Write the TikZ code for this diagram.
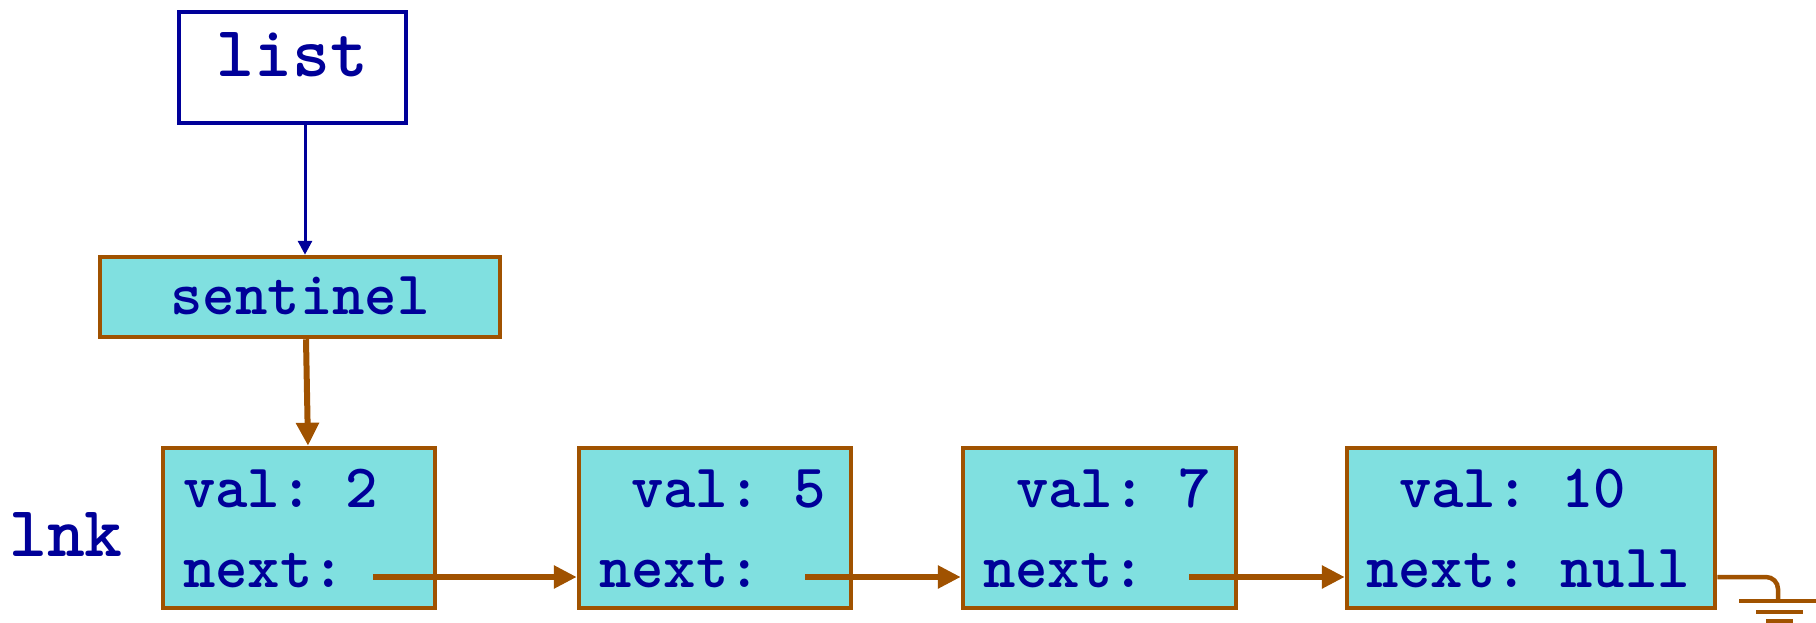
\documentclass[tikz,border=0pt]{standalone}
\usetikzlibrary{arrows.meta}
\definecolor{cellfill}{RGB}{128,224,224}
\definecolor{brn}{RGB}{160,82,0}
\definecolor{dblue}{RGB}{0,0,153}
\begin{document}
\frenchspacing
\begin{tikzpicture}[x=1pt,y=-1pt,
  cell/.style={draw=brn, line width=4.5pt, fill=cellfill, inner sep=0pt},
  lbl/.style={font=\ttfamily\bfseries\fontsize{61.7}{66}\selectfont, text=dblue, inner sep=0pt, anchor=base west},
  big/.style={font=\ttfamily\bfseries\fontsize{72}{78}\selectfont, text=dblue, inner sep=0pt},
  link/.style={draw=brn, line width=6pt, -{Triangle[length=23pt,width=22pt]}},
  ptr/.style={draw=dblue, line width=3pt, -{Triangle[length=14pt,width=14pt]}},
  gndline/.style={draw=brn, line width=4.5pt},
]
\useasboundingbox (0,0) rectangle (1816,623);
% list box
\node[draw=dblue, line width=4pt, fill=white, inner sep=0pt, minimum width=227pt, minimum height=111pt] (list) at (292.5,67.5) {};
\node[big, anchor=base] (listtxt) at (292.5,77) {list};
% sentinel
\node[cell, minimum width=400pt, minimum height=80pt] (sent) at (300,297) {};
\node[lbl, anchor=base] (senttxt) at (300,314) {sentinel};
% lnk label
\node[big, anchor=base west] (lnk) at (9,556) {lnk};
% cells
\node[cell, minimum width=272pt, minimum height=160pt] (n1) at (299,528) {};
\node[cell, minimum width=272pt, minimum height=160pt] (n2) at (715,528) {};
\node[cell, minimum width=273pt, minimum height=160pt] (n3) at (1099.5,528) {};
\node[cell, minimum width=368pt, minimum height=160pt] (n4) at (1531,528) {};
% texts
\node[lbl] (v1) at (183,507) {val: 2};
\node[lbl] (x1) at (183,587) {next:};
\node[lbl] (v2) at (631,507) {val: 5};
\node[lbl] (x2) at (599,587) {next:};
\node[lbl] (v3) at (1016,507) {val: 7};
\node[lbl] (x3) at (983,587) {next:};
\node[lbl] (v4) at (1399,507) {val: 10};
\node[lbl] (x4) at (1366,587) {next: null};
% pointer starts
\coordinate (p1) at (373,577);
\coordinate (p2) at (805,577);
\coordinate (p3) at (1189,577);
\coordinate (g0) at (1715,577);
\coordinate (gnd) at (1778,601);
% connectors
\draw[ptr] ([xshift=12.5pt]list.south) -- ([xshift=5pt]sent.north);
\draw[link] ([xshift=6pt]sent.south) -- ([xshift=9pt]n1.north);
\draw[link] (p1) -- (p1 -| n2.west);
\draw[link] (p2) -- (p2 -| n3.west);
\draw[link] (p3) -- (p3 -| n4.west);
% ground
\draw[gndline, rounded corners=12pt] (g0 -| n4.east) -- (g0 -| gnd) -- (gnd);
\draw[gndline] ([xshift=-39pt]gnd) -- ([xshift=38pt]gnd);
\draw[gndline] ([xshift=-22pt,yshift=-11pt]gnd) -- ([xshift=25pt,yshift=-11pt]gnd);
\draw[gndline] ([xshift=-12pt,yshift=-20pt]gnd) -- ([xshift=15pt,yshift=-20pt]gnd);
\end{tikzpicture}
\end{document}
